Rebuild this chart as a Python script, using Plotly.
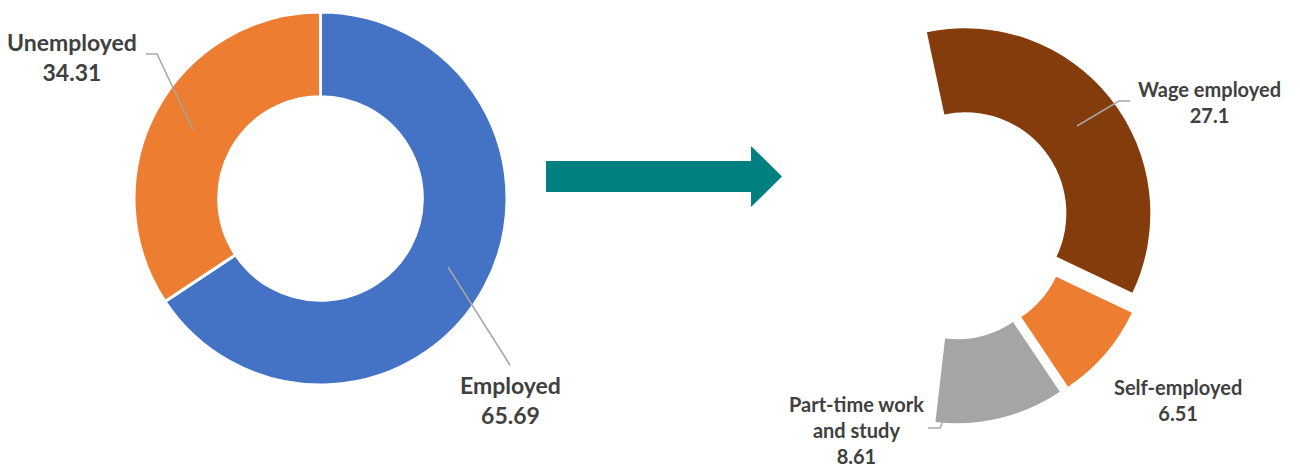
import plotly.graph_objects as go

# Overall labour-market status (per cent)
status_labels = ["Employed", "Unemployed"]
status_values = [65.69, 34.31]

# Breakdown of the employed group, with the unemployed share kept as an invisible remainder
detail_labels = ["Wage employed", "Self-employed", "Part-time work and study", "Unemployed"]
detail_values = [27.1, 6.51, 8.61, 34.31]
detail_display = ["Wage employed", "Self-employed", "Part-time work<br>and study", None]

W, H = 1300, 467
BLUE, ORANGE, BROWN, GREY = "#4472C4", "#ED7D31", "#843C0C", "#A5A5A5"
TEAL = "#008080"
TEXT = "#404040"
LEADER = "#A6A6A6"
FONT = "Lato"


def px(x):
    return x / W


def py(y):
    return 1 - y / H


def box(cx, cy, half):
    return dict(x=[px(cx - half), px(cx + half)], y=[py(cy + half), py(cy - half)])


HOLE = 0.546
PULL = 0.085

fig = go.Figure()

fig.add_trace(go.Pie(
    labels=status_labels,
    values=status_values,
    sort=False,
    direction="clockwise",
    rotation=0,
    hole=HOLE,
    marker=dict(colors=[BLUE, ORANGE], line=dict(color="white", width=3)),
    textinfo="none",
    showlegend=False,
    domain=box(320.5, 198.5, 186.5),
))

fig.add_trace(go.Pie(
    labels=detail_labels,
    values=detail_values,
    sort=False,
    direction="clockwise",
    rotation=-12,
    hole=HOLE,
    pull=[PULL, PULL, PULL, 0],
    marker=dict(colors=[BROWN, ORANGE, GREY, "rgba(0,0,0,0)"], line=dict(width=0)),
    textinfo="none",
    showlegend=False,
    domain=box(953, 223, 185 * (1 + PULL)),
))

shapes = []


def leader(points):
    d = "M " + " L ".join(f"{px(x)},{py(y)}" for x, y in points)
    shapes.append(dict(type="path", path=d, xref="paper", yref="paper",
                       line=dict(color=LEADER, width=1.5)))


leader([(146, 54), (157, 54), (193, 130)])
leader([(448, 267), (510, 365)])
leader([(1130, 101), (1119, 101), (1077, 126)])
leader([(928, 428), (940, 428), (943, 421)])

# Teal arrow between the two rings
arrow = [(546, 161), (751, 161), (751, 146), (782, 176.5), (751, 207), (751, 192), (546, 192)]
shapes.append(dict(
    type="path", xref="paper", yref="paper",
    path="M " + " L ".join(f"{px(x)},{py(y)}" for x, y in arrow) + " Z",
    fillcolor=TEAL, line=dict(width=0),
))

annotations = []


def label(text, value, cx, cy, size):
    annotations.append(dict(
        text=f"<b>{text}<br>{value}</b>",
        x=px(cx), y=py(cy), xref="paper", yref="paper",
        xanchor="center", yanchor="middle", showarrow=False, align="center",
        font=dict(family=FONT, size=size, color=TEXT),
    ))


label(status_labels[1], status_values[1], 72, 57, 23)
label(status_labels[0], status_values[0], 510, 400, 23)
label(detail_display[0], detail_values[0], 1209, 102, 20)
label(detail_display[1], detail_values[1], 1178, 400, 20)
label(detail_display[2], detail_values[2], 856, 430, 20)

fig.update_layout(
    width=W, height=H,
    margin=dict(l=0, r=0, t=0, b=0),
    paper_bgcolor="white",
    plot_bgcolor="white",
    shapes=shapes,
    annotations=annotations,
)

fig.write_html("out.html")
